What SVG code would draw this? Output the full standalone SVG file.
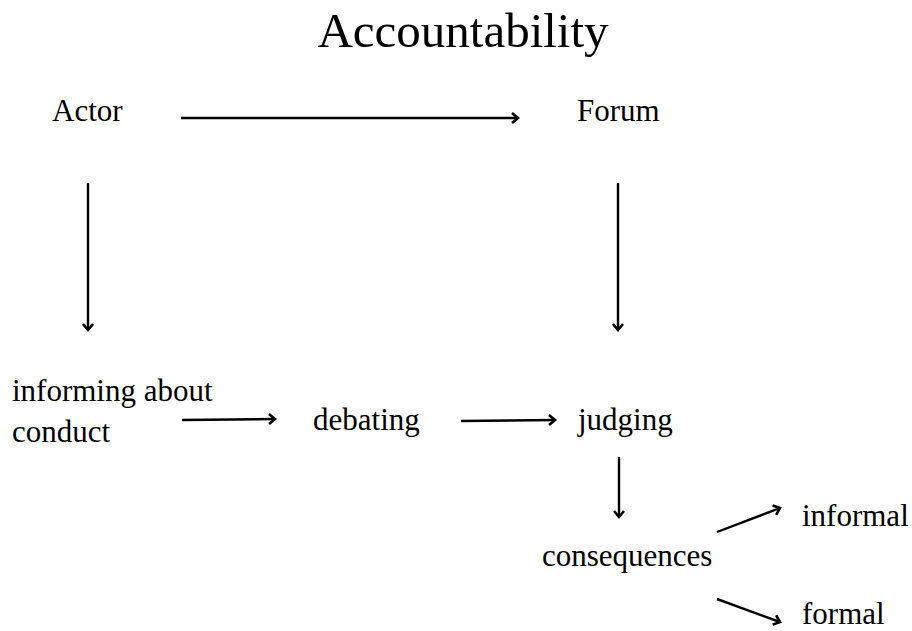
<svg xmlns="http://www.w3.org/2000/svg" width="912" height="631" viewBox="0 0 912 631">
<defs>
<style>
text{font-family:"Liberation Serif","Times New Roman",serif;fill:#000;}
.t{font-size:31px;}
.title{font-size:49px;}
.c line{stroke:#000;stroke-width:2.4;fill:none;marker-end:url(#ah);}
</style>
<marker id="ah" markerUnits="userSpaceOnUse" markerWidth="12" markerHeight="14" refX="8" refY="6" orient="auto">
<path d="M2,1 L8,6 L2,11" fill="none" stroke="#000" stroke-width="2.6" stroke-linejoin="miter"/>
</marker>
</defs>
<rect width="912" height="631" fill="#fff"/>
<g id="title"><text class="title" x="463" y="47" text-anchor="middle">Accountability</text></g>
<g id="actor"><text class="t" x="52" y="121">Actor</text></g>
<g id="forum"><text class="t" x="577" y="121">Forum</text></g>
<g id="informing"><text class="t" x="12" y="401">informing about</text><text class="t" x="12" y="442">conduct</text></g>
<g id="debating"><text class="t" x="313" y="430">debating</text></g>
<g id="judging"><text class="t" x="578" y="430">judging</text></g>
<g id="consequences"><text class="t" x="542" y="566">consequences</text></g>
<g id="informal"><text class="t" x="802" y="526">informal</text></g>
<g id="formal"><text class="t" x="802" y="624">formal</text></g>
<g id="connectors" class="c">
<line x1="181" y1="118" x2="518" y2="118"/>
<line x1="88" y1="183" x2="88" y2="330"/>
<line x1="618" y1="183" x2="618" y2="330"/>
<line x1="182" y1="420" x2="275" y2="419"/>
<line x1="461" y1="421" x2="555" y2="420"/>
<line x1="619" y1="457" x2="619" y2="517"/>
<line x1="717" y1="532" x2="780" y2="508"/>
<line x1="717" y1="599" x2="780" y2="622"/>
</g>
</svg>
